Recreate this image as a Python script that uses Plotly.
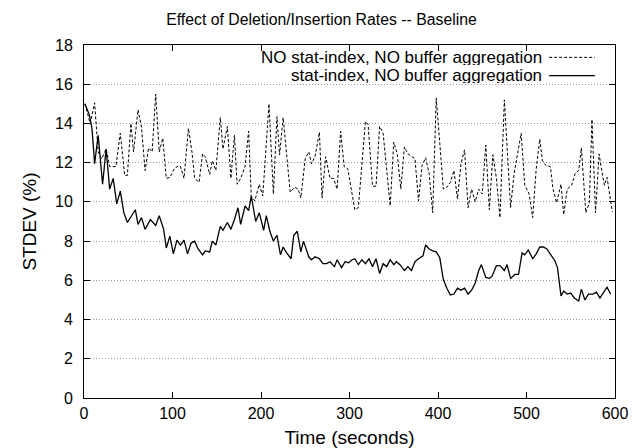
import plotly.graph_objects as go

# ---- data ----
t_nostat = [1, 7, 12, 16, 20, 25, 29, 36, 41, 46, 49, 53, 56, 61, 65, 69, 73, 77, 81, 85,
            89, 93, 97, 102, 107, 109, 113, 118, 122, 125, 130, 134, 137, 142, 145, 149, 154,
            157, 162, 166, 170, 173, 177, 182, 186, 189, 193, 198, 202, 209, 214, 218, 221,
            225, 229, 233, 238, 242, 245, 250, 254, 257, 261, 266, 269, 273, 278, 282, 286,
            290, 294, 298, 302, 306, 310, 314, 318, 321, 326, 330, 334, 338, 342, 346, 350,
            354, 358, 362, 366, 374, 378, 382, 386, 390, 394, 398, 402, 406, 410, 414, 418,
            422, 426, 430, 434, 438, 442, 446, 450, 454, 458, 462, 466, 470, 475, 478, 482,
            486, 490, 494, 498, 503, 507, 511, 515, 518, 522, 527, 530, 534, 539, 542, 546,
            551, 555, 559, 562, 567, 571, 574, 578, 582, 585, 588, 591, 597]
v_nostat = [15.0, 14.0, 15.05, 12.55, 12.2, 12.7, 11.8, 11.8, 13.5, 11.35, 11.35, 14.0, 12.55,
            14.7, 13.8, 11.6, 12.75, 12.55, 15.5, 12.55, 13.25, 11.2, 11.25, 11.7, 11.85, 11.8,
            11.2, 13.75, 12.55, 11.2, 11.0, 12.45, 12.3, 11.4, 12.1, 11.6, 14.3, 12.7, 13.85,
            11.2, 13.4, 10.9, 11.2, 11.8, 13.6, 10.3, 10.05, 10.9, 10.3, 15.0, 10.4, 14.35,
            12.4, 14.3, 12.4, 10.5, 10.75, 10.65, 10.2, 12.2, 12.55, 11.95, 12.3, 13.55, 10.2,
            12.3, 11.2, 11.2, 10.65, 13.6, 11.8, 11.7, 10.65, 9.6, 9.7, 11.7, 14.1, 13.95,
            10.8, 10.8, 13.85, 13.5, 11.7, 9.8, 13.05, 12.45, 10.65, 12.8, 12.45, 12.2, 10.05,
            11.85, 12.25, 11.45, 9.45, 15.3, 13.0, 10.65, 10.75, 11.0, 11.6, 10.15, 11.95,
            12.65, 9.7, 10.65, 10.0, 10.65, 10.4, 12.9, 9.6, 12.4, 11.2, 9.2, 15.2, 12.55,
            9.7, 11.45, 12.4, 13.5, 10.85, 10.4, 9.2, 11.7, 13.2, 12.1, 11.85, 11.8, 10.65,
            9.95, 10.9, 9.35, 10.65, 10.85, 11.45, 11.6, 12.75, 9.45, 9.95, 14.2, 9.45, 12.45,
            11.6, 10.85, 11.25, 9.5]

t_stat = [1, 6, 9, 12, 16, 21, 25, 29, 33, 37, 41, 45, 49, 58, 61, 65, 69, 75, 81, 85, 90,
          93, 97, 101, 105, 109, 113, 117, 121, 125, 129, 134, 137, 142, 145, 149, 154, 157,
          162, 166, 170, 174, 177, 182, 186, 189, 194, 198, 203, 206, 210, 214, 218, 222,
          225, 229, 234, 237, 241, 245, 248, 251, 254, 257, 261, 266, 270, 274, 278, 283,
          286, 291, 295, 299, 303, 306, 310, 314, 318, 322, 326, 330, 334, 338, 342, 346,
          350, 353, 357, 362, 366, 370, 374, 378, 383, 386, 390, 394, 398, 402, 406, 410,
          414, 418, 422, 426, 430, 434, 438, 442, 446, 449, 454, 458, 461, 466, 470, 475,
          478, 482, 487, 491, 495, 498, 502, 507, 511, 515, 519, 523, 528, 532, 535, 537,
          539, 542, 546, 550, 554, 559, 562, 566, 570, 575, 579, 583, 587, 591, 595]
v_stat = [15.0, 14.45, 13.75, 11.95, 13.4, 10.9, 12.7, 10.65, 11.2, 9.9, 10.55, 9.45, 8.95,
          9.6, 8.85, 9.2, 8.6, 9.1, 8.8, 9.3, 8.6, 7.65, 8.25, 7.35, 8.05, 7.8, 8.05, 7.35,
          7.9, 8.0, 7.6, 7.3, 7.5, 7.45, 8.0, 7.8, 8.75, 8.55, 8.95, 8.6, 9.1, 9.7, 8.85,
          9.8, 9.55, 10.3, 9.0, 9.45, 8.55, 9.3, 8.5, 8.0, 8.3, 7.3, 7.7, 7.4, 7.1, 8.3, 8.5,
          7.45, 8.0, 7.65, 7.2, 7.05, 7.2, 7.1, 6.85, 6.85, 6.95, 6.7, 7.05, 6.65, 6.95, 6.9,
          7.05, 7.1, 6.8, 7.05, 6.85, 7.1, 6.7, 7.1, 6.35, 6.85, 6.7, 7.05, 6.8, 6.95, 6.8,
          6.5, 6.7, 6.5, 6.95, 7.1, 7.25, 7.8, 7.6, 7.5, 7.45, 7.15, 6.05, 5.6, 5.25, 5.3,
          5.6, 5.5, 5.6, 5.3, 5.5, 5.85, 6.5, 6.8, 6.15, 6.1, 6.2, 6.75, 6.75, 6.5, 6.8, 6.1,
          6.3, 6.3, 7.4, 7.3, 7.55, 7.1, 7.35, 7.7, 7.7, 7.6, 7.25, 7.0, 6.65, 5.8, 5.2, 5.45,
          5.3, 5.35, 5.1, 4.95, 5.55, 5.0, 5.3, 5.3, 5.4, 5.1, 5.35, 5.65, 5.3]

name_nostat = "NO stat-index, NO buffer aggregation"
name_stat = "stat-index, NO buffer aggregation"
x_ticks = [0, 100, 200, 300, 400, 500, 600]
y_ticks = [0, 2, 4, 6, 8, 10, 12, 14, 16, 18]

FONT = "Liberation Sans, Arial, Helvetica, sans-serif"
DASH = "3px,2px"

fig = go.Figure()
fig.add_trace(go.Scatter(x=t_nostat, y=v_nostat, mode="lines", name=name_nostat,
                         line=dict(color="black", width=1, dash=DASH),
                         showlegend=False))
fig.add_trace(go.Scatter(x=t_stat, y=v_stat, mode="lines", name=name_stat,
                         line=dict(color="black", width=1.3),
                         showlegend=False))

# gnuplot-style key: text right-aligned, line sample to the right
key_rows = [(name_nostat, 0.965, DASH, 1), (name_stat, 0.913, "solid", 1.3)]
for txt, yp, dash, w in key_rows:
    fig.add_annotation(x=0.861, y=yp, xref="paper", yref="paper", text=txt,
                       showarrow=False, xanchor="right", yanchor="middle",
                       height=15, borderpad=0, xshift=2,
                       font=dict(family=FONT, size=17, color="black"))
    fig.add_shape(type="line", xref="paper", yref="paper", x0=0.876, x1=0.962,
                  y0=yp, y1=yp, line=dict(color="black", width=w, dash=dash))

fig.update_layout(
    width=643, height=448,
    margin=dict(l=84, r=28, t=45, b=50),
    paper_bgcolor="white", plot_bgcolor="white",
    font=dict(family=FONT, size=16, color="black"),
    title=dict(text="Effect of Deletion/Insertion Rates -- Baseline",
               x=0.5, xref="container", y=1 - 19 / 448, yref="container",
               xanchor="center", yanchor="middle",
               font=dict(family=FONT, size=15.8, color="black")),
)
fig.update_xaxes(range=[0, 600], tickvals=x_ticks, ticks="inside", ticklen=6,
                 tickcolor="black", showline=True, linecolor="black", linewidth=1,
                 mirror="allticks", showgrid=False, zeroline=False,
                 ticklabelstandoff=1, automargin=False,
                 title=dict(text="Time (seconds)", standoff=14,
                            font=dict(family=FONT, size=19)))
fig.update_yaxes(range=[0, 18], tickvals=y_ticks, ticks="inside", ticklen=6,
                 tickcolor="black", showline=True, linecolor="black", linewidth=1,
                 mirror="allticks", showgrid=True, gridcolor="#999999", gridwidth=1,
                 griddash="1px,2px", zeroline=False, ticklabelstandoff=7,
                 automargin=False,
                 title=dict(text="STDEV (%)", standoff=13,
                            font=dict(family=FONT, size=19)))

fig.write_html("out.html")
